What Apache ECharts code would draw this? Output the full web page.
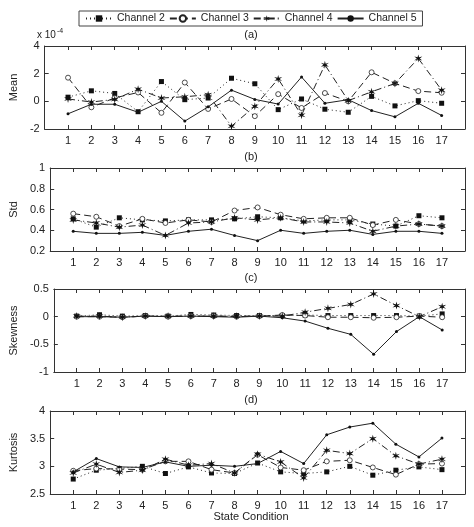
<!DOCTYPE html>
<html>
<head>
<meta charset="utf-8">
<script src="https://cdn.jsdelivr.net/npm/echarts@6/dist/echarts.min.js"></script>
<style>
  html, body { margin: 0; padding: 0; background: #fff; }
  #main { width: 474px; height: 527px; }
</style>
</head>
<body>
<div id="main"></div>
<script>
var states = [1, 2, 3, 4, 5, 6, 7, 8, 9, 10, 11, 12, 13, 14, 15, 16, 17];
var channels = ['Channel 2', 'Channel 3', 'Channel 4', 'Channel 5'];

// (a) Mean, x 10^-4
var meanCh2 = [0.3, 0.76, 0.57, -0.75, 1.43, 0.12, 0.24, 1.67, 1.27, -0.6, 0.17, -0.57, -0.79, 0.36, -0.33, 0.05, -0.14];
var meanCh3 = [1.71, -0.43, 0.25, 0.64, -0.83, 1.36, -0.55, 0.17, -1.07, 0.52, -0.48, 0.6, 0.0, 2.1, 1.3, 0.74, 0.62];
var meanCh4 = [0.17, -0.05, 0.14, 0.88, 0.24, 0.33, 0.48, -1.8, -0.36, 1.62, -1.0, 2.64, 0.05, 0.69, 1.29, 3.1, 0.81];
var meanCh5 = [-0.9, -0.21, -0.21, -0.79, 0.0, -1.43, -0.4, 0.81, 0.14, -0.2, 1.76, -0.14, 0.12, -0.67, -1.12, -0.14, -1.02];

// (b) Std
var stdCh2 = [0.51, 0.43, 0.52, 0.5, 0.49, 0.5, 0.5, 0.51, 0.53, 0.52, 0.49, 0.5, 0.5, 0.46, 0.44, 0.54, 0.52];
var stdCh3 = [0.56, 0.53, 0.44, 0.51, 0.47, 0.5, 0.48, 0.59, 0.62, 0.55, 0.51, 0.52, 0.52, 0.45, 0.5, 0.46, 0.44];
var stdCh4 = [0.5, 0.47, 0.43, 0.45, 0.35, 0.47, 0.48, 0.52, 0.5, 0.52, 0.48, 0.48, 0.47, 0.39, 0.44, 0.46, 0.44];
var stdCh5 = [0.39, 0.37, 0.37, 0.38, 0.35, 0.39, 0.41, 0.35, 0.3, 0.4, 0.37, 0.39, 0.4, 0.36, 0.39, 0.39, 0.37];

// (c) Skewness
var skewCh2 = [0.01, 0.035, 0.01, 0.02, 0.01, 0.04, 0.03, 0.02, 0.02, 0.02, 0.03, 0.02, 0.02, 0.02, 0.02, 0.01, 0.05];
var skewCh3 = [0.0, 0.0, -0.01, 0.01, 0.0, 0.01, 0.01, 0.0, 0.01, 0.03, 0.02, -0.01, -0.01, -0.02, -0.01, 0.01, -0.01];
var skewCh4 = [0.01, 0.01, -0.01, 0.01, 0.01, 0.01, 0.01, 0.01, 0.01, 0.01, 0.08, 0.15, 0.22, 0.41, 0.2, 0.0, 0.18];
var skewCh5 = [0.0, 0.0, -0.01, 0.01, 0.0, 0.01, 0.0, -0.01, 0.01, -0.02, -0.08, -0.21, -0.32, -0.68, -0.27, 0.0, -0.24];

// (d) Kurtosis
var kurtCh2 = [2.77, 2.93, 2.96, 3.0, 2.87, 2.99, 2.88, 2.87, 3.06, 2.9, 2.87, 2.9, 3.0, 2.84, 2.93, 2.99, 2.94];
var kurtCh3 = [2.92, 2.96, 2.95, 2.94, 3.09, 3.09, 2.94, 2.88, 3.21, 2.98, 2.93, 3.09, 3.11, 2.98, 2.85, 3.04, 3.05];
var kurtCh4 = [2.88, 3.04, 2.89, 2.93, 3.13, 3.02, 3.05, 2.88, 3.22, 3.08, 2.79, 3.29, 3.23, 3.5, 3.19, 3.04, 3.13];
var kurtCh5 = [2.9, 3.14, 2.99, 2.98, 3.08, 3.0, 3.02, 3.0, 3.05, 3.27, 3.05, 3.57, 3.71, 3.78, 3.4, 3.17, 3.51];

var panelData = [
  [meanCh2, meanCh3, meanCh4, meanCh5],
  [stdCh2, stdCh3, stdCh4, stdCh5],
  [skewCh2, skewCh3, skewCh4, skewCh5],
  [kurtCh2, kurtCh3, kurtCh4, kurtCh5]
];
var panelNames = ['Mean', 'Std', 'Skewness', 'Kurtosis'];
var panelLetters = ['(a)', '(b)', '(c)', '(d)'];
var yMin = [-2, 0.2, -1, 2.5];
var yMax = [4, 1, 0.5, 4];
var yStep = [2, 0.2, 0.5, 0.5];
var gridTops = [46, 168, 289, 411];

var font = 'Liberation Sans, Arial, sans-serif';
var ink = '#222';
var starPath = 'path://M5,0 L5.8,3.6 L9.3,2.5 L6.6,5 L9.3,7.5 L5.8,6.4 L5,10 L4.2,6.4 L0.7,7.5 L3.4,5 L0.7,2.5 L4.2,3.6 Z';

var lineStyles = [
  { type: [1, 3], width: 1 },
  { type: [7, 4], width: 1 },
  { type: [7, 3, 1, 3], width: 1 },
  { type: 'solid', width: 1 }
];
var symbols = ['rect', 'circle', starPath, 'circle'];
var symbolSizes = [5, 5, 8, 3];
var markerStyles = [
  { color: '#111', borderWidth: 0 },
  { color: '#fff', borderColor: '#222', borderWidth: 0.8 },
  { color: '#111', borderWidth: 0 },
  { color: '#111', borderWidth: 0 }
];

var grids = [], xAxes = [], yAxes = [], series = [], texts = [];

function fmtY(v) {
  return String(Math.round(v * 10) / 10);
}

for (var p = 0; p < 4; p++) {
  grids.push({ left: 37, width: 428, top: gridTops[p], height: 83 });
  // bottom x axis with labels
  xAxes.push({
    type: 'value', gridIndex: p, min: 0, max: 18, interval: 1,
    axisLine: { onZero: false, lineStyle: { color: '#333' } },
    axisTick: { inside: true, length: 4, lineStyle: { color: '#333' } },
    axisLabel: {
      color: ink, fontFamily: font, fontSize: 11, margin: 6,
      formatter: function (v) { return (v >= 1 && v <= 17) ? String(v) : ''; }
    },
    splitLine: { show: false }
  });
  // top x axis, ticks only
  xAxes.push({
    type: 'value', gridIndex: p, position: 'top', min: 0, max: 18, interval: 1,
    axisLine: { onZero: false, lineStyle: { color: '#333' } },
    axisTick: { inside: true, length: 4, lineStyle: { color: '#333' } },
    axisLabel: { show: false },
    splitLine: { show: false }
  });
  yAxes.push({
    type: 'value', gridIndex: p, min: yMin[p], max: yMax[p], interval: yStep[p],
    name: panelNames[p], nameLocation: 'middle', nameGap: p === 2 || p === 3 ? 25 : 22,
    nameTextStyle: { color: ink, fontFamily: font, fontSize: 11 },
    axisLine: { show: true, onZero: false, lineStyle: { color: '#333' } },
    axisTick: { show: true, inside: true, length: 4, lineStyle: { color: '#333' } },
    axisLabel: { color: ink, fontFamily: font, fontSize: 11, margin: 5, formatter: fmtY },
    splitLine: { show: false }
  });
  yAxes.push({
    type: 'value', gridIndex: p, position: 'right', min: yMin[p], max: yMax[p], interval: yStep[p],
    axisLine: { show: true, onZero: false, lineStyle: { color: '#333' } },
    axisTick: { show: true, inside: true, length: 4, lineStyle: { color: '#333' } },
    axisLabel: { show: false },
    splitLine: { show: false }
  });

  for (var c = 0; c < 4; c++) {
    var vals = panelData[p][c];
    series.push({
      name: channels[c],
      type: 'line',
      xAxisIndex: p * 2,
      yAxisIndex: p * 2,
      data: states.map(function (s, i) { return [s, vals[i]]; }),
      symbol: symbols[c],
      symbolSize: symbolSizes[c],
      showAllSymbol: true,
      lineStyle: { color: ink, type: lineStyles[c].type, width: lineStyles[c].width },
      itemStyle: markerStyles[c],
      z: 2 + c
    });
  }

  texts.push({
    type: 'text', x: 251, y: gridTops[p] - 11,
    style: { text: panelLetters[p], fill: ink, font: '11px ' + font, textAlign: 'center', textVerticalAlign: 'middle' }
  });
}

texts.push({
  type: 'text', x: 251, y: 517,
  style: { text: 'State Condition', fill: ink, font: '11px ' + font, textAlign: 'center', textVerticalAlign: 'middle' }
});
texts.push({
  type: 'text', x: 37, y: 28,
  style: {
    text: '{a|x 10}{b|-4}',
    rich: {
      a: { fill: ink, fontFamily: font, fontSize: 10 },
      b: { fill: ink, fontFamily: font, fontSize: 7, verticalAlign: 'top', padding: [0, 0, 8, 1] }
    }
  }
});

var myChart = echarts.init(document.getElementById('main'));
var option = {
  animation: false,
  backgroundColor: '#fff',
  legend: {
    data: channels,
    top: 11,
    left: 79,
    itemWidth: 26,
    itemHeight: 8,
    itemGap: 4,
    padding: [2, 6, 2, 6],
    borderColor: '#444',
    borderWidth: 1,
    textStyle: { color: ink, fontFamily: font, fontSize: 10.5 }
  },
  grid: grids,
  xAxis: xAxes,
  yAxis: yAxes,
  series: series,
  graphic: texts
};
myChart.setOption(option);
</script>
</body>
</html>
